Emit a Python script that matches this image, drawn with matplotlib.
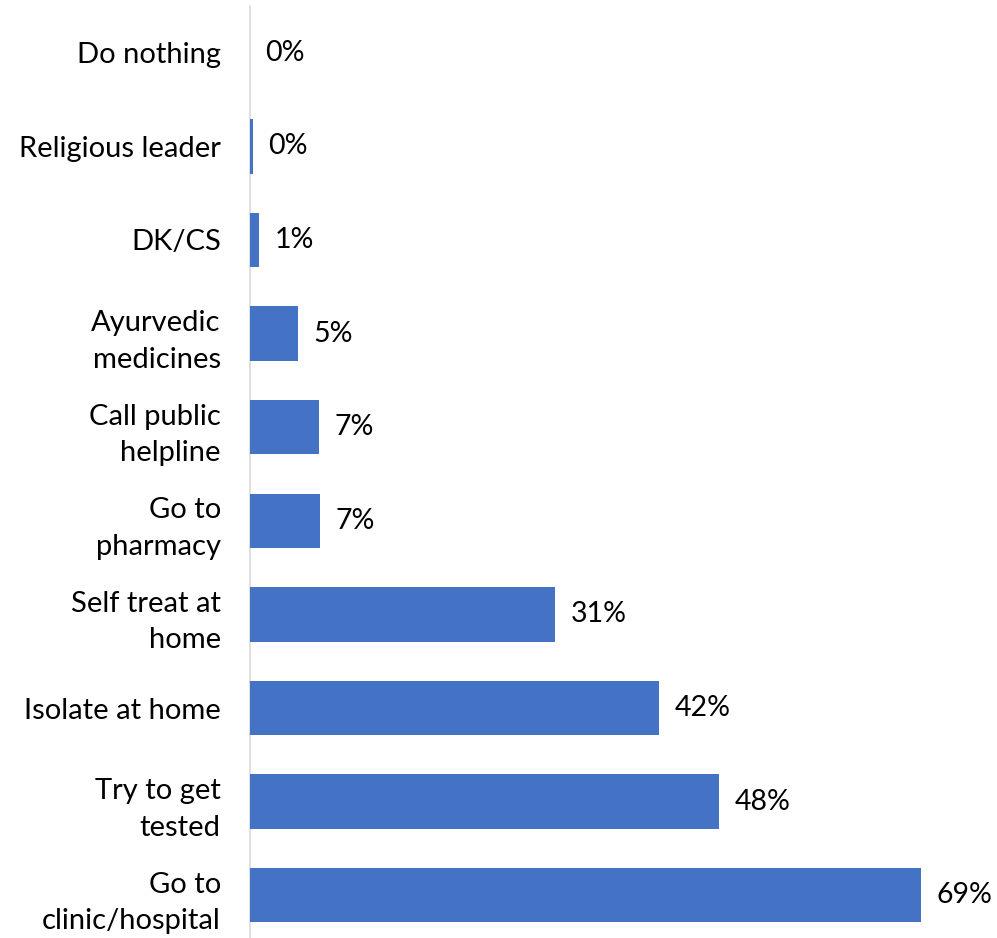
import matplotlib.pyplot as plt

# Respuestas: qué haría la persona ante síntomas
categorias = [
    "Do nothing",
    "Religious leader",
    "DK/CS",
    "Ayurvedic\nmedicines",
    "Call public\nhelpline",
    "Go to\npharmacy",
    "Self treat at\nhome",
    "Isolate at home",
    "Try to get\ntested",
    "Go to\nclinic/hospital",
]
porcentajes = [0.0, 0.3, 0.9, 4.9, 7.1, 7.2, 31.4, 42.1, 48.2, 69.0]

plt.rcParams['font.family'] = ['Lato', 'DejaVu Sans']

fig = plt.figure(figsize=(9.97, 9.38), dpi=100)
ax = fig.add_axes([250 / 997, -4 / 938, 745 / 997, 936 / 938])

y = range(len(categorias))
barras = ax.barh(y, porcentajes, height=0.58, color='#4472C4', zorder=3)

for b, v in zip(barras, porcentajes):
    ax.text(v + 1.6, b.get_y() + b.get_height() / 2, f"{round(v):.0f}%",
            va='center', ha='left', fontsize=20.5)

ax.set_yticks(list(y))
ax.set_yticklabels(categorias, fontsize=21, linespacing=1.5)
ax.set_ylim(9.5, -0.5)
ax.set_xlim(0, 76.6)
ax.set_xticks([])

for s in ['top', 'right', 'bottom']:
    ax.spines[s].set_visible(False)
ax.spines['left'].set_color('#D9D9D9')
ax.spines['left'].set_linewidth(1.2)
ax.spines['left'].set_zorder(1)
ax.tick_params(axis='y', length=0, pad=21)

fig.savefig('out.png', dpi=100)
